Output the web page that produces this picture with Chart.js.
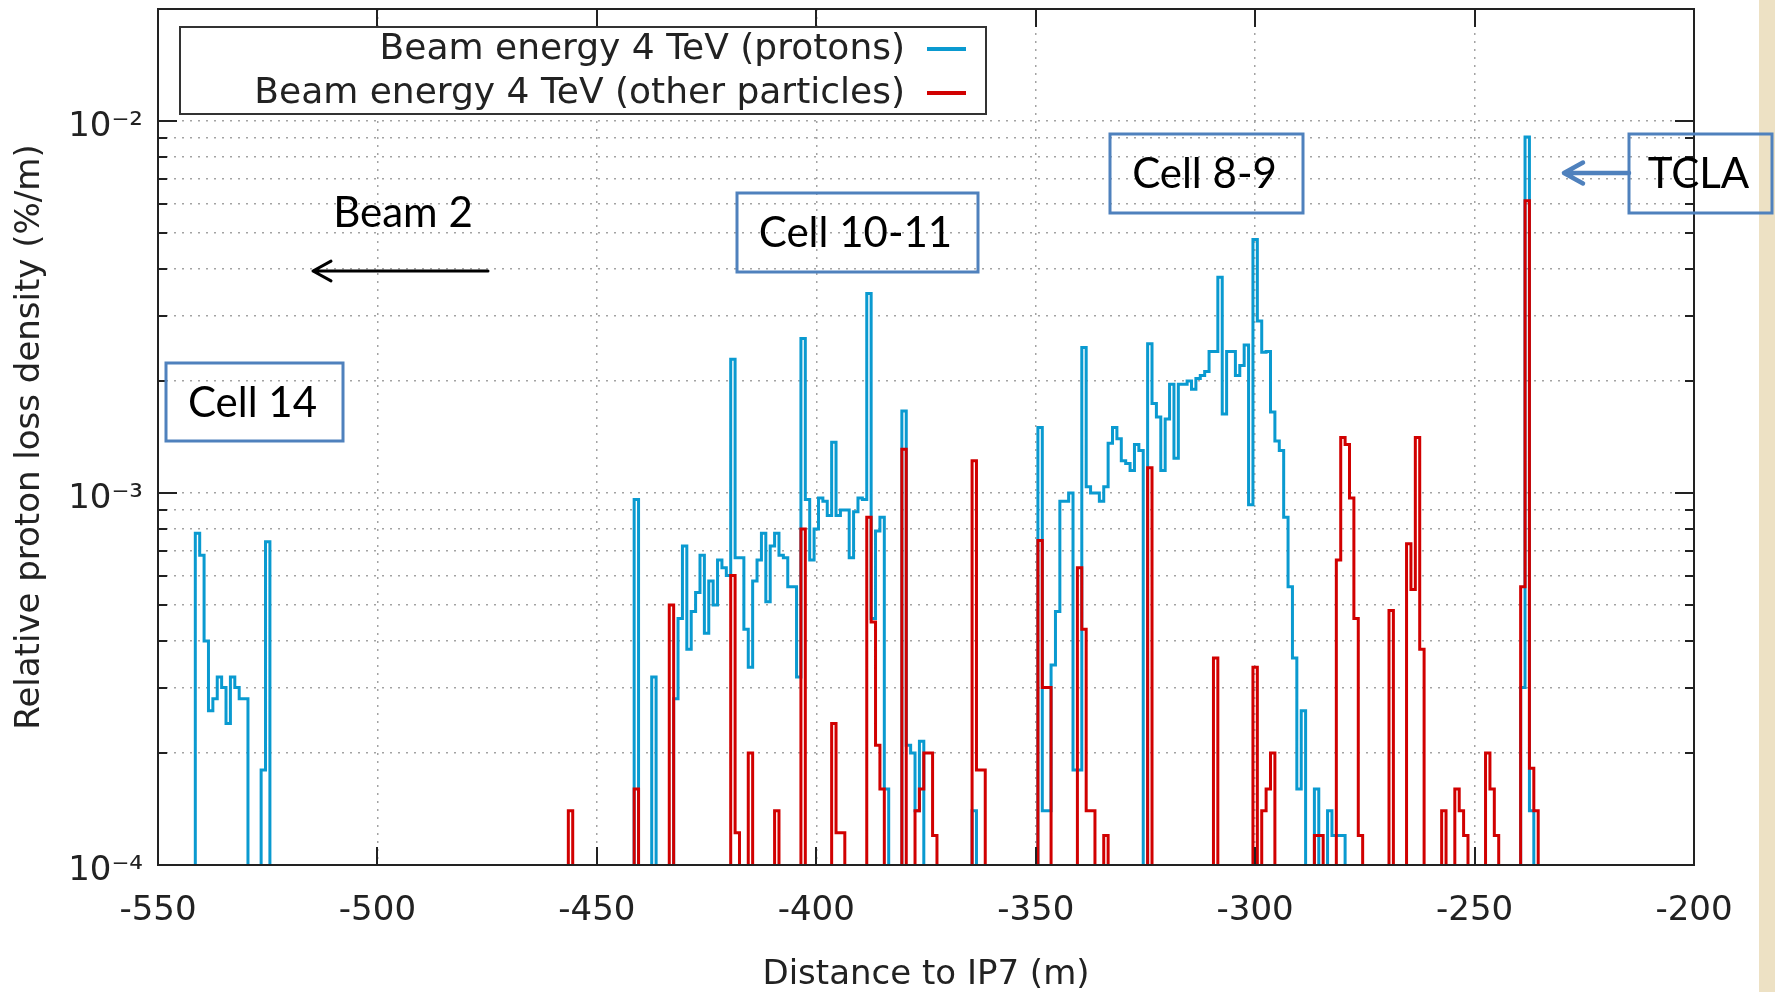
<!DOCTYPE html>
<html>
<head>
<meta charset="utf-8">
<title>Beam 2 loss map</title>
<script src="https://cdn.jsdelivr.net/npm/chart.js@4.4.1/dist/chart.umd.min.js"></script>
<style>
  html, body { margin: 0; padding: 0; background: #fff; }
  #wrap { position: relative; width: 1775px; height: 992px; overflow: hidden; }
  #edge { position: absolute; left: 1759px; top: 0; width: 16px; height: 992px; background: #ede1c4; }
  #lossChart { position: absolute; left: 0; top: 0; }
</style>
</head>
<body>
<div id="wrap">
  <div id="edge"></div>
  <canvas id="lossChart" width="1775" height="992"></canvas>
</div>
<script>
// 1 m bins, first bin centred at -543 m; values in %/m, 0 = empty bin
const firstBin = -543;

const protons = [
  0, 0, 7.8e-4, 6.8e-4, 4.0e-4, 2.6e-4, 2.8e-4, 3.2e-4, 3.0e-4, 2.4e-4,          // -543
  3.2e-4, 3.0e-4, 2.8e-4, 2.8e-4, 0, 0, 0, 1.8e-4, 7.4e-4, 0,                      // -533
  0, 0, 0, 0, 0, 0, 0, 0, 0, 0,                                                    // -523
  0, 0, 0, 0, 0, 0, 0, 0, 0, 0,                                                    // -513
  0, 0, 0, 0, 0, 0, 0, 0, 0, 0,                                                    // -503
  0, 0, 0, 0, 0, 0, 0, 0, 0, 0,                                                    // -493
  0, 0, 0, 0, 0, 0, 0, 0, 0, 0,                                                    // -483
  0, 0, 0, 0, 0, 0, 0, 0, 0, 0,                                                    // -473
  0, 0, 0, 0, 0, 0, 0, 0, 0, 0,                                                    // -463
  0, 0, 0, 0, 0, 0, 0, 0, 0, 0,                                                    // -453
  0, 0, 9.6e-4, 0, 0, 0, 3.2e-4, 0, 0, 0,                                          // -443
  0, 2.8e-4, 4.6e-4, 7.2e-4, 3.8e-4, 4.8e-4, 5.4e-4, 6.8e-4, 4.2e-4, 5.8e-4,       // -433
  5.0e-4, 6.6e-4, 6.3e-4, 6.0e-4, 2.29e-3, 6.7e-4, 6.7e-4, 4.3e-4, 3.4e-4, 5.8e-4, // -423
  6.6e-4, 7.8e-4, 5.1e-4, 7.2e-4, 7.8e-4, 6.8e-4, 6.7e-4, 5.6e-4, 5.6e-4, 3.2e-4, // -413
  2.6e-3, 9.6e-4, 6.6e-4, 8.0e-4, 9.7e-4, 9.5e-4, 8.7e-4, 1.37e-3, 8.7e-4, 9.0e-4, // -403
  9.0e-4, 6.7e-4, 8.9e-4, 9.7e-4, 9.6e-4, 3.44e-3, 4.6e-4, 7.9e-4, 8.6e-4, 1.6e-4, // -393
  0, 0, 0, 1.66e-3, 2.1e-4, 2.0e-4, 1.4e-4, 2.15e-4, 0, 0,                         // -383
  0, 0, 0, 0, 0, 0, 0, 0, 0, 1.4e-4,                                               // -373
  0, 0, 0, 0, 0, 0, 0, 0, 0, 0,                                                    // -363
  0, 0, 0, 0, 1.5e-3, 1.4e-4, 1.4e-4, 3.45e-4, 4.8e-4, 9.5e-4,                     // -353
  9.5e-4, 1.0e-3, 1.8e-4, 1.8e-4, 2.46e-3, 1.04e-3, 1.0e-3, 1.0e-3, 9.5e-4, 1.04e-3, // -343
  1.36e-3, 1.5e-3, 1.4e-3, 1.22e-3, 1.2e-3, 1.15e-3, 1.35e-3, 1.3e-3, 0, 2.52e-3,  // -333
  1.74e-3, 1.6e-3, 1.15e-3, 1.58e-3, 1.96e-3, 1.24e-3, 1.96e-3, 1.96e-3, 2.0e-3, 1.9e-3, // -323
  2.03e-3, 2.07e-3, 2.12e-3, 2.4e-3, 2.4e-3, 3.8e-3, 1.63e-3, 2.4e-3, 2.4e-3, 2.07e-3,  // -313
  2.2e-3, 2.5e-3, 9.3e-4, 4.8e-3, 2.9e-3, 2.39e-3, 2.4e-3, 1.65e-3, 1.38e-3, 1.3e-3,   // -303
  8.6e-4, 5.6e-4, 3.6e-4, 1.6e-4, 2.6e-4, 0, 0, 1.6e-4, 0, 0,                      // -293
  1.4e-4, 1.2e-4, 1.2e-4, 1.2e-4, 0, 0, 0, 0, 0, 0,                                // -283
  0, 0, 0, 0, 0, 0, 0, 0, 0, 0,                                                    // -273
  0, 0, 0, 0, 0, 0, 0, 0, 0, 0,                                                    // -263
  0, 0, 0, 0, 0, 0, 0, 0, 0, 0,                                                    // -253
  0, 0, 0, 0, 3.0e-4, 9.05e-3, 1.4e-4, 0, 0, 0                                     // -243
];

const others = [
  0, 0, 0, 0, 0, 0, 0, 0, 0, 0,                                                    // -543
  0, 0, 0, 0, 0, 0, 0, 0, 0, 0,                                                    // -533
  0, 0, 0, 0, 0, 0, 0, 0, 0, 0,                                                    // -523
  0, 0, 0, 0, 0, 0, 0, 0, 0, 0,                                                    // -513
  0, 0, 0, 0, 0, 0, 0, 0, 0, 0,                                                    // -503
  0, 0, 0, 0, 0, 0, 0, 0, 0, 0,                                                    // -493
  0, 0, 0, 0, 0, 0, 0, 0, 0, 0,                                                    // -483
  0, 0, 0, 0, 0, 0, 0, 0, 0, 0,                                                    // -473
  0, 0, 0, 0, 0, 0, 0, 1.4e-4, 0, 0,                                               // -463
  0, 0, 0, 0, 0, 0, 0, 0, 0, 0,                                                    // -453
  0, 0, 1.6e-4, 0, 0, 0, 0, 0, 0, 0,                                               // -443
  5.0e-4, 0, 0, 0, 0, 0, 0, 0, 0, 0,                                               // -433
  0, 0, 0, 0, 6.0e-4, 1.22e-4, 0, 0, 2.0e-4, 0,                                    // -423
  0, 0, 0, 0, 1.4e-4, 0, 0, 0, 0, 0,                                               // -413
  8.0e-4, 0, 0, 0, 0, 0, 0, 2.4e-4, 1.22e-4, 1.22e-4,                              // -403
  0, 0, 0, 0, 0, 8.6e-4, 4.5e-4, 2.1e-4, 1.6e-4, 0,                                // -393
  0, 0, 0, 1.31e-3, 0, 0, 1.4e-4, 1.6e-4, 2.0e-4, 2.0e-4,                          // -383
  1.2e-4, 0, 0, 0, 0, 0, 0, 0, 0, 1.22e-3,                                         // -373
  1.8e-4, 1.8e-4, 0, 0, 0, 0, 0, 0, 0, 0,                                          // -363
  0, 0, 0, 0, 7.45e-4, 3.0e-4, 3.0e-4, 0, 0, 0,                                    // -353
  0, 0, 0, 6.3e-4, 4.3e-4, 1.4e-4, 1.4e-4, 0, 0, 1.2e-4,                           // -343
  0, 0, 0, 0, 0, 0, 0, 0, 0, 1.17e-3,                                              // -333
  0, 0, 0, 0, 0, 0, 0, 0, 0, 0,                                                    // -323
  0, 0, 0, 0, 3.6e-4, 0, 0, 0, 0, 0,                                               // -313
  0, 0, 0, 3.4e-4, 0, 1.4e-4, 1.6e-4, 2.0e-4, 0, 0,                                // -303
  0, 0, 0, 0, 0, 0, 0, 1.2e-4, 1.2e-4, 0,                                          // -293
  0, 0, 6.6e-4, 1.41e-3, 1.35e-3, 9.7e-4, 4.6e-4, 1.2e-4, 0, 0,                    // -283
  0, 0, 0, 0, 4.83e-4, 0, 0, 0, 7.3e-4, 5.5e-4,                                    // -273
  1.41e-3, 3.8e-4, 0, 0, 0, 0, 1.4e-4, 0, 0, 1.6e-4,                               // -263
  1.4e-4, 1.2e-4, 0, 0, 0, 0, 2.0e-4, 1.6e-4, 1.2e-4, 0,                           // -253
  0, 0, 0, 0, 5.6e-4, 6.1e-3, 1.82e-4, 1.4e-4, 0, 0                                // -243
];

const seriesLabels = ['Beam energy 4 TeV (protons)', 'Beam energy 4 TeV (other particles)'];
const seriesColors = ['#0a9ad0', '#d10000'];

const xTickValues = [-550, -500, -450, -400, -350, -300, -250, -200];
const yTickValues = [1e-4, 2e-4, 3e-4, 4e-4, 5e-4, 6e-4, 7e-4, 8e-4, 9e-4,
                     1e-3, 2e-3, 3e-3, 4e-3, 5e-3, 6e-3, 7e-3, 8e-3, 9e-3,
                     1e-2, 2e-2];
const yMajorTicks = [1e-4, 1e-3, 1e-2];
const yMajorLabels = ['10⁻⁴', '10⁻³', '10⁻²'];

const EMPTY = 1e-7; // below the axis floor, so empty bins drop to the bottom edge

function histogram(values) {
  // one point per bin left edge; stepped line holds each value across its bin
  return values.map((v, i) => ({ x: firstBin - 0.5 + i, y: v > 0 ? v : EMPTY }));
}

function isMajor(v) {
  return yMajorTicks.some(m => Math.abs(v / m - 1) < 1e-6);
}

const gnuFont = 'DejaVu Sans';
const noteFont = 'Lato';

// frame with inward tick marks on all four sides
const frame = {
  id: 'frame',
  afterDatasetsDraw(chart) {
    const { ctx, chartArea: a, scales: { x, y } } = chart;
    ctx.save();
    ctx.strokeStyle = '#222';
    ctx.lineWidth = 2;
    ctx.beginPath();
    xTickValues.forEach(v => {
      const px = Math.round(x.getPixelForValue(v));
      ctx.moveTo(px, a.bottom); ctx.lineTo(px, a.bottom - 18);
      ctx.moveTo(px, a.top); ctx.lineTo(px, a.top + 18);
    });
    yTickValues.forEach(v => {
      const py = Math.round(y.getPixelForValue(v));
      const len = isMajor(v) ? 19 : 9;
      ctx.moveTo(a.left, py); ctx.lineTo(a.left + len, py);
      ctx.moveTo(a.right, py); ctx.lineTo(a.right - len, py);
    });
    ctx.stroke();
    ctx.strokeRect(a.left, a.top, a.right - a.left, a.bottom - a.top);
    ctx.restore();
  }
};

// gnuplot-style key: right-aligned text followed by a line sample
const keyBox = {
  id: 'keyBox',
  afterDraw(chart) {
    const ctx = chart.ctx;
    ctx.save();
    ctx.fillStyle = '#fff';
    ctx.fillRect(180, 27, 806, 87);
    ctx.strokeStyle = '#333';
    ctx.lineWidth = 2;
    ctx.strokeRect(180, 27, 806, 87);
    ctx.font = '36px "' + gnuFont + '"';
    ctx.textAlign = 'right';
    ctx.textBaseline = 'middle';
    chart.data.datasets.forEach((ds, i) => {
      const rowY = 49 + i * 44;
      ctx.fillStyle = '#222';
      ctx.fillText(ds.label, 905, rowY + 1);
      ctx.strokeStyle = ds.borderColor;
      ctx.lineWidth = 4;
      ctx.beginPath();
      ctx.moveTo(927, rowY);
      ctx.lineTo(966, rowY);
      ctx.stroke();
    });
    ctx.restore();
  }
};

// callout boxes and arrows laid over the plot
const cellBoxes = [
  { text: 'Cell 14', x: 166, y: 363, w: 177, h: 78 },
  { text: 'Cell 10-11', x: 737, y: 193, w: 241, h: 79 },
  { text: 'Cell 8-9', x: 1110, y: 134, w: 193, h: 79 },
  { text: 'TCLA', x: 1629, y: 134, w: 143, h: 79 }
];

function arrow(ctx, x0, x1, yy, head) {
  ctx.beginPath();
  ctx.moveTo(x0, yy);
  ctx.lineTo(x1, yy);
  ctx.moveTo(x1 + head, yy - head * 0.55);
  ctx.lineTo(x1, yy);
  ctx.lineTo(x1 + head, yy + head * 0.55);
  ctx.stroke();
}

const notes = {
  id: 'notes',
  afterDraw(chart) {
    const ctx = chart.ctx;
    ctx.save();
    ctx.font = '42px ' + noteFont;
    ctx.textAlign = 'center';
    ctx.textBaseline = 'middle';
    ctx.lineWidth = 3;
    ctx.strokeStyle = '#4f81bd';
    cellBoxes.forEach(b => {
      ctx.strokeRect(b.x, b.y, b.w, b.h);
      ctx.fillStyle = '#000';
      ctx.fillText(b.text, b.x + b.w / 2 - 2, b.y + b.h / 2 + 1);
    });

    ctx.fillStyle = '#000';
    ctx.fillText('Beam 2', 403, 213);
    ctx.strokeStyle = '#000';
    ctx.lineWidth = 3;
    ctx.lineCap = 'round';
    ctx.lineJoin = 'round';
    arrow(ctx, 488, 313, 271, 18);

    ctx.strokeStyle = '#4f81bd';
    ctx.lineWidth = 4.5;
    arrow(ctx, 1629, 1564, 173, 19);
    ctx.restore();
  }
};

Chart.defaults.font.family = gnuFont;
Chart.defaults.color = '#222';

new Chart(document.getElementById('lossChart'), {
  type: 'line',
  data: {
    datasets: [
      {
        label: seriesLabels[0],
        data: histogram(protons),
        borderColor: seriesColors[0],
        order: 2
      },
      {
        label: seriesLabels[1],
        data: histogram(others),
        borderColor: seriesColors[1],
        order: 1
      }
    ]
  },
  options: {
    responsive: false,
    animation: false,
    devicePixelRatio: 1,
    layout: { padding: { top: 9, right: 81, left: 0, bottom: 0 } },
    elements: {
      line: { borderWidth: 3, stepped: true, tension: 0, fill: false, borderCapStyle: 'butt', borderJoinStyle: 'miter' },
      point: { radius: 0, hoverRadius: 0 }
    },
    datasets: { line: { clip: 0 } },
    scales: {
      x: {
        type: 'linear',
        min: -550,
        max: -200,
        afterBuildTicks: s => { s.ticks = xTickValues.map(v => ({ value: v })); },
        afterFit: s => { s.height = 127; s.paddingLeft = 0; s.paddingRight = 0; },
        grid: { color: '#a3a3a3', lineWidth: 1.5, drawTicks: false },
        border: { display: false, dash: [2, 6] },
        ticks: { autoSkip: false, maxRotation: 0, padding: 26, font: { size: 34 } },
        title: { display: true, text: 'Distance to IP7 (m)', font: { size: 34 }, padding: { bottom: -4 } }
      },
      y: {
        type: 'logarithmic',
        min: 1e-4,
        max: 2e-2,
        afterBuildTicks: s => { s.ticks = yTickValues.map(v => ({ value: v })); },
        afterFit: s => { s.width = 158; s.paddingTop = 0; s.paddingBottom = 0; },
        grid: { color: '#a3a3a3', lineWidth: 1.5, drawTicks: false },
        border: { display: false, dash: [2, 6] },
        ticks: {
          autoSkip: false,
          padding: 15,
          labelOffset: 6,
          font: { size: 34 },
          callback: v => {
            const k = yMajorTicks.findIndex(m => Math.abs(v / m - 1) < 1e-6);
            return k >= 0 ? yMajorLabels[k] : '';
          }
        },
        title: { display: true, text: 'Relative proton loss density (%/m)', font: { size: 34 }, padding: { top: 10 } }
      }
    },
    plugins: {
      legend: { display: false },
      tooltip: { enabled: false }
    }
  },
  plugins: [frame, keyBox, notes]
});
</script>
</body>
</html>
